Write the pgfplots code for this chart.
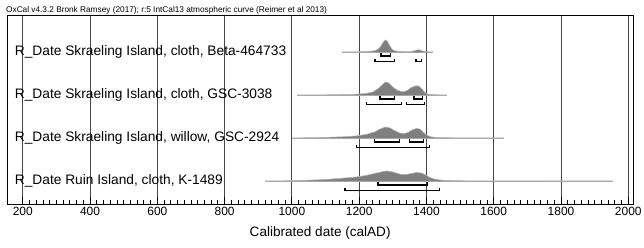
\documentclass[border=0pt]{standalone}
\usepackage{pgfplots}
\usepackage{pgfplotstable}
\pgfplotsset{compat=1.18}
\usepackage{fontspec}
\setmainfont{Liberation Sans}
\definecolor{gridc}{HTML}{454545}
\definecolor{distfill}{HTML}{7F7F7F}
\definecolor{distline}{HTML}{B4B4B4}
\definecolor{basec}{HTML}{A8A8A8}

\def\rA{152}\def\rB{109}\def\rC{66}\def\rD{23}

\pgfplotstableread{
yr h
1150 0
1200 0.2
1230 0.6
1245 1.2
1255 2.5
1263 5
1270 9
1277 12
1283 11
1290 7
1297 3
1305 1.2
1320 0.5
1340 0.3
1355 0.5
1365 1.2
1373 2.2
1380 2
1388 1
1400 0.3
1420 0
}\distA
\pgfplotstableread{
yr h
1015 0
1100 0.2
1180 0.6
1220 1.5
1240 3
1255 6
1268 10
1278 13
1288 12
1300 8
1312 5
1325 3.5
1335 3.5
1345 5
1355 7.5
1367 9
1377 9
1387 6
1395 2.5
1405 0.8
1420 0.3
1460 0
}\distB
\pgfplotstableread{
yr h
1000 0
1050 0.3
1100 0.6
1150 1.2
1190 2
1220 3.5
1245 6
1262 9
1278 11
1292 10
1305 7.5
1320 5
1335 4.5
1345 5.5
1357 8
1370 9.5
1380 9
1390 6
1400 3
1412 1.2
1430 0.5
1480 0.2
1630 0
}\distC
\pgfplotstableread{
yr h
920 0
1000 0.3
1050 0.8
1100 1.5
1150 2.8
1190 4
1220 5.5
1245 7.5
1265 9
1280 10
1295 9.5
1310 8
1325 6.5
1340 6.5
1355 7.5
1370 8.5
1385 8
1398 6
1410 3.5
1425 1.8
1445 0.8
1480 0.3
1550 0.1
1955 0
}\distD

\pgfplotsset{
 dist/.style={fill=distfill, draw=distline, line width=0.6bp},
 base/.style={basec, line width=0.7bp},
 brk/.style={black, line width=1.1bp},
}
% bracket: x1, x2, depth below baseline, baseline
\newcommand\brk[4]{\addplot[brk] table[row sep=\\, x=x, y expr=#4-#3+2.5*\thisrow{t}] {x t\\ #1 1\\ #1 0\\ #2 0\\ #2 1\\};}
\newcommand\rlabel[2]{\node[anchor=west, inner sep=0pt, font=\fontsize{13.8}{16}\selectfont] at (axis cs:176,#1) {#2};}

\begin{document}
\begin{tikzpicture}
\begin{axis}[
  name=ax,
  scale only axis, width=625.7bp, height=188bp,
  xmin=154, xmax=2014, ymin=0, ymax=188,
  ytick=\empty,
  xtick={200,400,...,2000},
  minor x tick num=9,
  xtick pos=bottom,
  tick align=inside,
  major tick length=7bp, minor tick length=3.5bp,
  tick style={black, line width=0.8bp},
  xmajorgrids,
  grid style={gridc, line width=0.8bp},
  axis line style={black, line width=1bp},
  /pgf/number format/1000 sep={},
  /pgf/number format/assume math mode=true,
  xticklabel style={font=\fontsize{12}{12}\selectfont, inner sep=1bp, yshift=-2bp},
  xlabel={Calibrated date (calAD)},
  xlabel style={font=\fontsize{13.6}{14}\selectfont, at={(axis description cs:0.5,0)}, anchor=center, yshift=-29bp},
  clip=false,
]
% baselines
\addplot[base] coordinates {(1150,\rA) (1420,\rA)};
\addplot[base] coordinates {(1015,\rB) (1460,\rB)};
\addplot[base] coordinates {(1000,\rC) (1630,\rC)};
\addplot[base] coordinates {(920,\rD) (1955,\rD)};
% distributions
\addplot[dist] table[x=yr, y expr=\thisrow{h}+\rA] {\distA};
\addplot[dist] table[x=yr, y expr=\thisrow{h}+\rB] {\distB};
\addplot[dist] table[x=yr, y expr=\thisrow{h}+\rC] {\distC};
\addplot[dist] table[x=yr, y expr=\thisrow{h}+\rD] {\distD};
% brackets 68.2% and 95.4%
\brk{1265}{1292}{4}{\rA}
\brk{1247}{1304}{9.5}{\rA}
\brk{1369}{1386}{9.5}{\rA}
\brk{1262}{1306}{4}{\rB}
\brk{1363}{1388}{4}{\rB}
\brk{1222}{1327}{9.5}{\rB}
\brk{1342}{1395}{9.5}{\rB}
\brk{1245}{1320}{4}{\rC}
\brk{1350}{1392}{4}{\rC}
\brk{1193}{1410}{9.5}{\rC}
\brk{1256}{1402}{4}{\rD}
\brk{1158}{1440}{9.5}{\rD}
% row labels
\rlabel{\rA}{R\_Date Skraeling Island, cloth, Beta-464733}
\rlabel{\rB}{R\_Date Skraeling Island, cloth, GSC-3038}
\rlabel{\rC}{R\_Date Skraeling Island, willow, GSC-2924}
\rlabel{\rD}{R\_Date Ruin Island, cloth, K-1489}
\end{axis}
\node[anchor=base west, inner sep=0pt, font=\fontsize{8.3}{9}\selectfont] at ([shift={(-1.3bp,3.3bp)}]ax.north west) {OxCal v4.3.2 Bronk Ramsey (2017); r:5 IntCal13 atmospheric curve (Reimer et al 2013)};
\pgfresetboundingbox
\path[use as bounding box] ([shift={(-7.3bp,-44bp)}]ax.south west) rectangle ([shift={(11bp,16bp)}]ax.north east);
\end{tikzpicture}
\end{document}
